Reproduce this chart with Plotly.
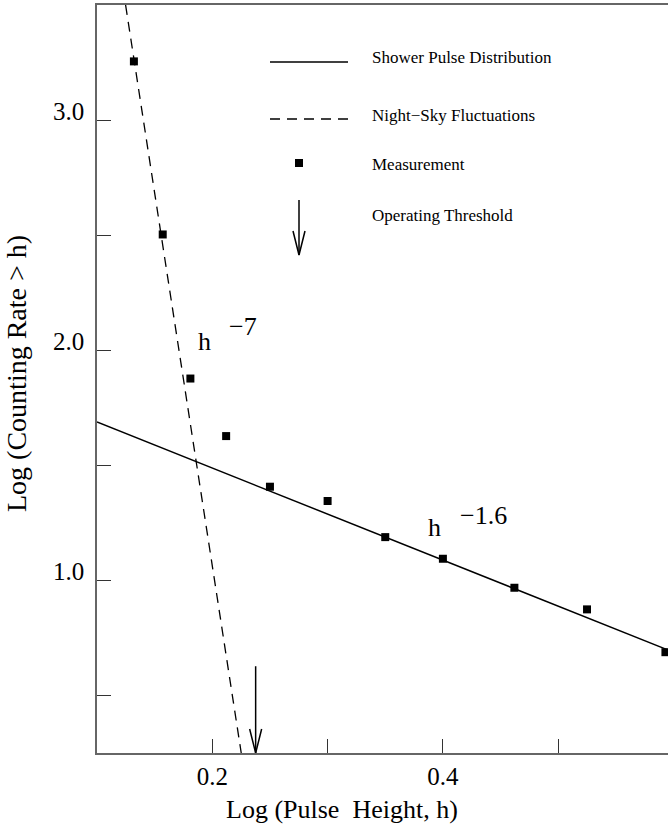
import plotly.graph_objects as go

# ---------------- data ----------------
meas_x = [0.132, 0.157, 0.181, 0.212, 0.250, 0.300, 0.350, 0.400, 0.462, 0.525, 0.593]
meas_y = [3.255, 2.503, 1.877, 1.627, 1.407, 1.345, 1.188, 1.094, 0.968, 0.874, 0.688]

shower_x = [0.10, 0.60]
shower_y = [1.688, 0.688]

night_x = [0.1248, 0.2251]
night_y = [3.50, 0.25]

threshold_x = [0.2376, 0.2376]
threshold_y = [0.627, 0.25]

x_tickvals = [0.2, 0.3, 0.4, 0.5]
x_ticktext = ["0.2", "", "0.4", ""]
y_tickvals = [0.5, 1.0, 1.5, 2.0, 2.5, 3.0]
y_ticktext = ["", "1.0", "", "2.0", "", "3.0"]

legend_labels = ["Shower Pulse Distribution", "Night\u2212Sky Fluctuations",
                 "Measurement", "Operating Threshold"]

# ---------------- layout constants ----------------
W, H = 668, 828
ML, MR, MT, MB = 97, 0, 5, 75
PW, PH = W - ML - MR, H - MT - MB
FONT = "Liberation Serif, Times New Roman, serif"


def px(xp):
    return (xp - ML) / PW


def py(yp):
    return 1 - (yp - MT) / PH


fig = go.Figure()

fig.add_trace(go.Scatter(x=shower_x, y=shower_y, mode="lines",
                         line=dict(color="black", width=1.5), showlegend=False))
fig.add_trace(go.Scatter(x=night_x, y=night_y, mode="lines",
                         line=dict(color="black", width=1.3, dash="10px,7px"),
                         showlegend=False))
fig.add_trace(go.Scatter(x=meas_x, y=meas_y, mode="markers",
                         marker=dict(symbol="square", size=8, color="black"),
                         showlegend=False, cliponaxis=False))
fig.add_trace(go.Scatter(x=threshold_x, y=threshold_y, mode="lines",
                         line=dict(color="black", width=1.5), showlegend=False))

shapes = []
# threshold arrowhead (open V), pixel-sized, anchored at arrow tip
shapes.append(dict(type="path", xref="x", yref="y", xsizemode="pixel", ysizemode="pixel",
                   xanchor=threshold_x[1], yanchor=threshold_y[1],
                   path="M -6,24 L 0,0 L 6,24", line=dict(color="black", width=1.5)))

# ---- legend (drawn manually) ----
leg_line_x0, leg_line_x1 = 270, 348
leg_sym_x = 299
leg_text_x = 370
shapes.append(dict(type="line", xref="paper", yref="paper",
                   x0=px(leg_line_x0), x1=px(leg_line_x1), y0=py(62), y1=py(62),
                   line=dict(color="black", width=1.5)))
shapes.append(dict(type="line", xref="paper", yref="paper",
                   x0=px(leg_line_x0), x1=px(leg_line_x1), y0=py(119), y1=py(119),
                   line=dict(color="black", width=1.3, dash="10px,7px")))
shapes.append(dict(type="rect", xref="paper", yref="paper", xsizemode="pixel", ysizemode="pixel",
                   xanchor=px(leg_sym_x), yanchor=py(163), x0=-4, x1=4, y0=-4, y1=4,
                   fillcolor="black", line=dict(width=0)))
shapes.append(dict(type="line", xref="paper", yref="paper",
                   x0=px(leg_sym_x), x1=px(leg_sym_x), y0=py(200), y1=py(255),
                   line=dict(color="black", width=1.5)))
shapes.append(dict(type="path", xref="paper", yref="paper", xsizemode="pixel", ysizemode="pixel",
                   xanchor=px(leg_sym_x), yanchor=py(255),
                   path="M -6,24 L 0,0 L 6,24", line=dict(color="black", width=1.5)))

annotations = []
for lab, yc in zip(legend_labels, [57, 115, 165, 215]):
    annotations.append(dict(text=lab, xref="paper", yref="paper", x=px(leg_text_x), y=py(yc),
                            xanchor="left", yanchor="middle", showarrow=False,
                            font=dict(family=FONT, size=17, color="black")))

# power-law labels
for base_x, base_y, exp_txt, exp_x, exp_y in [
    (0.1931, 2.039, "\u22127", 0.2130, 2.102),
    (0.3928, 1.228, "\u22121.6", 0.4127, 1.280),
]:
    annotations.append(dict(text="h", x=base_x, y=base_y, xref="x", yref="y",
                            showarrow=False, xanchor="center", yanchor="middle",
                            font=dict(family=FONT, size=26, color="black")))
    annotations.append(dict(text=exp_txt, x=exp_x, y=exp_y, xref="x", yref="y",
                            showarrow=False, xanchor="left", yanchor="middle",
                            font=dict(family=FONT, size=26, color="black")))

# axis titles
annotations.append(dict(text="Log (Pulse&nbsp;&nbsp;Height, h)", xref="paper", yref="paper",
                        x=px(342), y=py(809), xanchor="center", yanchor="middle",
                        showarrow=False, font=dict(family=FONT, size=26, color="black")))
annotations.append(dict(text="Log (Counting Rate &gt; h)", xref="paper", yref="paper",
                        x=px(16), y=py(374), xanchor="center", yanchor="middle", textangle=-90,
                        showarrow=False, font=dict(family=FONT, size=28, color="black")))

fig.update_layout(
    width=W, height=H,
    margin=dict(l=ML, r=MR, t=MT, b=MB),
    paper_bgcolor="white", plot_bgcolor="white",
    showlegend=False,
    shapes=shapes, annotations=annotations,
    font=dict(family=FONT, size=25, color="black"),
)
fig.update_xaxes(range=[0.1, 0.1 + PW / 1153.0], tickvals=x_tickvals, ticktext=x_ticktext,
                 ticks="inside", ticklen=14, tickwidth=1, tickcolor="#333",
                 showline=True, linecolor="#666", linewidth=1.5, mirror=True,
                 showgrid=False, zeroline=False, ticklabelstandoff=0,
                 tickfont=dict(family=FONT, size=25, color="black"))
fig.update_yaxes(range=[0.25, 3.5], tickvals=y_tickvals, ticktext=y_ticktext,
                 ticks="inside", ticklen=14, tickwidth=1, tickcolor="#333",
                 showline=True, linecolor="#666", linewidth=1.5,
                 showgrid=False, zeroline=False, ticklabelstandoff=6, ticklabelshift=-9,
                 tickfont=dict(family=FONT, size=25, color="black"))

fig.write_html("out.html", config={"displayModeBar": False},
               post_script="document.body.style.margin='0';")
